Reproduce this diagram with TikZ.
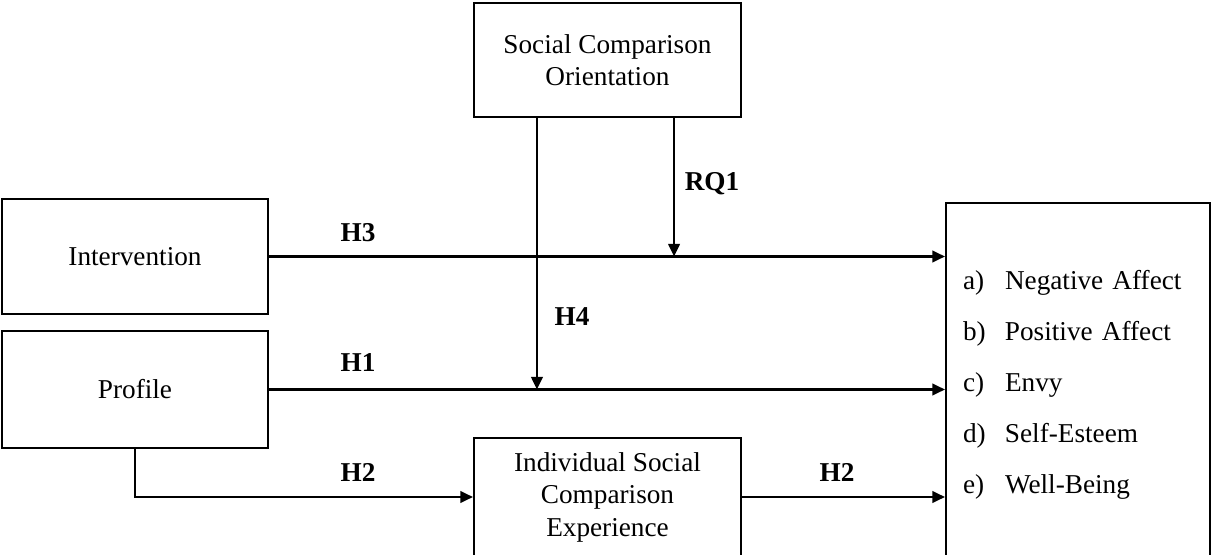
\documentclass[tikz,border=0pt]{standalone}
\usepackage{fontspec}
\setmainfont{Liberation Serif}
\usetikzlibrary{arrows.meta}

\begin{document}
\begin{tikzpicture}[
    font=\fontsize{15.5pt}{18.5pt}\selectfont,
    box/.style={draw, line width=1.2pt, align=center, inner sep=0pt},
    link/.style={line width=1.2pt, -{Triangle[length=2.5mm,width=2.3mm]}},
    hyp/.style={font=\fontsize{15.5pt}{18.5pt}\selectfont\bfseries},
  ]
  \useasboundingbox (0,0) rectangle (24.24,11.08);

  % boxes
  \node[box, minimum width=5.32cm, minimum height=2.30cm] (intervention) at (2.70,5.95) {Intervention};
  \node[box, minimum width=5.32cm, minimum height=2.34cm] (profile) at (2.70,3.29) {Profile};
  \node[box, minimum width=5.34cm, minimum height=2.28cm] (sco) at (12.15,9.88) {Social Comparison\\Orientation};
  \node[box, minimum width=5.34cm, minimum height=2.36cm] (isce) at (12.15,1.14) {Individual Social\\Comparison\\Experience};
  \node[box, minimum width=5.28cm, minimum height=7.28cm, text width=4.6cm, align=left,
    font=\fontsize{15.5pt}{29pt}\selectfont] (outcome) at (21.56,3.38) {%
    \makebox[0.84cm][l]{a)}Negative Affect\\
    \makebox[0.84cm][l]{b)}Positive Affect\\
    \makebox[0.84cm][l]{c)}Envy\\
    \makebox[0.84cm][l]{d)}Self-Esteem\\
    \makebox[0.84cm][l]{e)}Well-Being};

  % paths
  \draw[link] (intervention.east) -- (intervention.east -| outcome.west);
  \draw[link] (profile.east) -- (profile.east -| outcome.west);
  \draw[link] (profile.south) |- (isce.west);
  \draw[link] (isce.east) -- (isce.east -| outcome.west);
  \coordinate (h4top) at ([xshift=1.28cm]sco.south west);
  \coordinate (rq1top) at ([xshift=-1.36cm]sco.south east);
  \draw[link] (h4top) -- (h4top |- profile.east);
  \draw[link] (rq1top) -- (rq1top |- intervention.east);

  % labels
  \node[hyp] (h3) at (7.16,6.42) {H3};
  \node[hyp] (h1) at (7.16,3.82) {H1};
  \node[hyp] (h2a) at (7.16,1.64) {H2};
  \node[hyp] (h2b) at (16.74,1.64) {H2};
  \node[hyp] (rq1) at (14.24,7.40) {RQ1};
  \node[hyp] (h4) at (11.44,4.74) {H4};
\end{tikzpicture}
\end{document}
